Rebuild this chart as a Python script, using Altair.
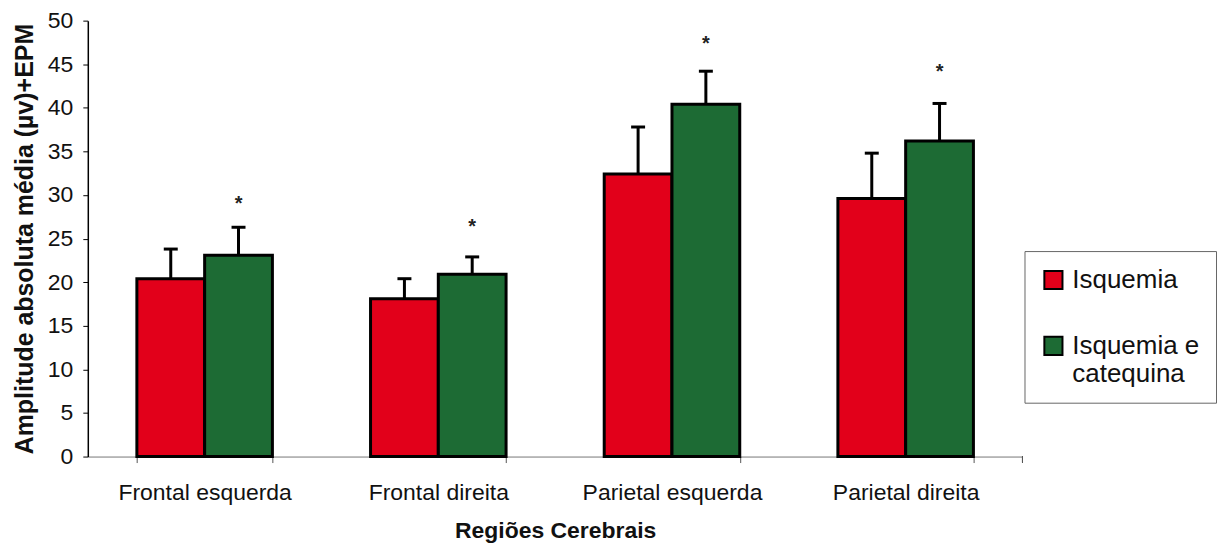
import altair as alt
import pandas as pd

regions = ["Frontal esquerda", "Frontal direita", "Parietal esquerda", "Parietal direita"]
groups = ["Isquemia", "Isquemia e catequina"]
isquemia = [20.4, 18.1, 32.4, 29.6]
isquemia_err = [23.8, 20.4, 37.8, 34.8]
catequina = [23.1, 20.9, 40.4, 36.2]
catequina_err = [26.3, 22.9, 44.2, 40.5]
stars = [29.4, 26.8, 47.8, 44.6]

rows = []
for i, r in enumerate(regions):
    rows.append({"regiao": r, "grupo": groups[0], "valor": isquemia[i], "erro": isquemia_err[i], "star": None})
    rows.append({"regiao": r, "grupo": groups[1], "valor": catequina[i], "erro": catequina_err[i], "star": stars[i]})
df = pd.DataFrame(rows)

FONT = "Liberation Sans"
x = alt.X("regiao:N", sort=regions,
          scale=alt.Scale(paddingInner=0.42, paddingOuter=0.21),
          axis=alt.Axis(title="Regiões Cerebrais", labelAngle=0, tickBand="extent",
                        labelFontSize=23, labelFont=FONT, labelColor="#111", labelPadding=19,
                        labelLimit=400,
                        titleFontSize=23, titleFont=FONT, titleFontWeight="bold", titleColor="#111",
                        titlePadding=15, domainColor="#777", tickColor="#555", tickSize=6))
xo = alt.XOffset("grupo:N", sort=groups)
color = alt.Color("grupo:N", sort=groups,
                  scale=alt.Scale(domain=groups, range=["#E2001A", "#1D6B34"]),
                  legend=alt.Legend(title=None, orient="none", legendX=939, legendY=231,
                                    symbolType="square", symbolSize=330, symbolStrokeColor="black",
                                    symbolStrokeWidth=2, labelFontSize=26, labelFont=FONT,
                                    labelColor="#111", labelLimit=300,
                                    labelExpr="datum.label == 'Isquemia e catequina' ? ['Isquemia e', 'catequina'] : datum.label",
                                    rowPadding=38, strokeColor="#666", padding=16,
                                    labelOffset=6))

bars = alt.Chart(df).mark_bar(stroke="black", strokeWidth=3).encode(
    x=x, xOffset=xo,
    y=alt.Y("valor:Q", scale=alt.Scale(domain=[0, 50]),
            axis=alt.Axis(title="Amplitude absoluta média (µv)+EPM", values=list(range(0, 55, 5)),
                          labelFontSize=23, labelFont=FONT, labelColor="#111", grid=False,
                          domainColor="black", domainWidth=1.5, tickColor="black", tickSize=5,
                          labelPadding=10, titleFontSize=25, titleFont=FONT, titleFontWeight="bold",
                          titleColor="#111", titlePadding=10)),
    color=color,
)
err = alt.Chart(df).mark_rule(color="black", strokeWidth=3).encode(
    x=x, xOffset=xo, y="valor:Q", y2="erro:Q")
cap = alt.Chart(df).mark_tick(color="black", thickness=3, size=14, opacity=1).encode(
    x=x, xOffset=xo, y="erro:Q")
star = alt.Chart(df).transform_filter("datum.star != null").mark_text(
    text="*", fontSize=20, fontWeight="bold", color="#222", font=FONT, baseline="middle", dy=4).encode(
    x=x, xOffset=xo, y="star:Q")
endtick = alt.Chart(df).mark_rule(color="#555").encode(
    x=alt.value(937), y=alt.value(437), y2=alt.value(443))

chart = alt.layer(bars, err, cap, star, endtick).properties(
    width=937, height=437,
    autosize=alt.AutoSizeParams(type="none"),
    padding={"left": 80, "top": 12, "right": 200, "bottom": 92},
    background="white",
).configure_view(stroke=None)

chart.save("out.html", embed_options={"renderer": "svg", "actions": False})
